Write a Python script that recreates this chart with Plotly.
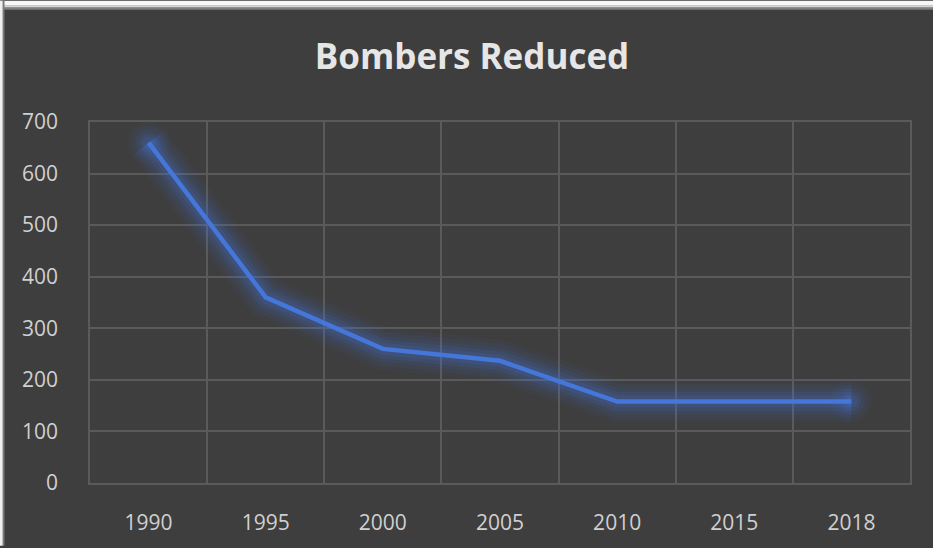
import plotly.graph_objects as go

# Bomber fleet size by year
years = ["1990", "1995", "2000", "2005", "2010", "2015", "2018"]
bombers = [660, 360, 260, 237, 158, 158, 158]
y_ticks = [0, 100, 200, 300, 400, 500, 600, 700]

W, H = 933, 548
ML, MR, MT, MB = 90, 23, 122, 63
PW, PH = W - ML - MR, H - MT - MB

BG = "#3e3e3e"
GRID = "#5a5a5a"
BLUE = "#4577da"


def px_x(x):
    return (x - ML) / PW


def px_y(y):
    return (H - MB - y) / PH


fig = go.Figure()

# soft glow under the line, with rounded ends
ends_x = [years[0], years[-1]]
ends_y = [bombers[0], bombers[-1]]
for width, alpha in [(42, 0.05), (34, 0.065), (26, 0.085), (19, 0.11), (12, 0.15)]:
    col = f"rgba(70,115,215,{alpha})"
    fig.add_trace(go.Scatter(
        x=years, y=bombers, mode="lines",
        line=dict(color=col, width=width),
        hoverinfo="skip", showlegend=False,
    ))
    fig.add_trace(go.Scatter(
        x=ends_x, y=ends_y, mode="markers",
        marker=dict(color=col, size=width, line=dict(width=0)),
        hoverinfo="skip", showlegend=False,
    ))

fig.add_trace(go.Scatter(
    x=years, y=bombers, mode="lines",
    line=dict(color=BLUE, width=4.5),
    name="Bombers", showlegend=False,
))

# light frame strips along the top and left edges
shapes = []
for y0, y1, col in [(0, 5, "#f6f6f6"), (5, 6.5, "#d4d4d4"), (6.5, 8, "#9e9e9e"), (8, 9.5, "#6c6c6c")]:
    shapes.append(dict(type="rect", xref="paper", yref="paper", layer="above",
                       x0=px_x(0), x1=px_x(W), y0=px_y(y1), y1=px_y(y0),
                       fillcolor=col, line=dict(width=0)))
for x0, x1, col in [(0, 2, "#f0f0f0"), (2, 3, "#bdbdbd"), (3, 4.5, "#7a7a7a")]:
    shapes.append(dict(type="rect", xref="paper", yref="paper", layer="above",
                       x0=px_x(x0), x1=px_x(x1), y0=px_y(H), y1=px_y(0),
                       fillcolor=col, line=dict(width=0)))

fig.update_layout(
    width=W, height=H,
    margin=dict(l=ML, r=MR, t=MT, b=MB),
    paper_bgcolor=BG, plot_bgcolor=BG,
    title=dict(text="<b>Bombers Reduced</b>", x=472 / W, xref="container", xanchor="center",
               y=1 - 57 / H, yref="container", yanchor="middle",
               font=dict(family="Open Sans", size=35, color="#e6e6e6")),
    font=dict(family="Open Sans", color="#d0d0d0"),
    shapes=shapes,
)

fig.update_xaxes(
    type="category", tickson="boundaries", range=[-0.5, 6.5],
    showgrid=True, gridcolor=GRID, gridwidth=1.5,
    showline=True, linecolor=GRID, linewidth=1.5, mirror=True,
    zeroline=False, ticks="", ticklabelstandoff=20,
    tickfont=dict(size=21, color="#d0d0d0"),
)
fig.update_yaxes(
    range=[0, 700], tickvals=y_ticks,
    showgrid=True, gridcolor=GRID, gridwidth=1.5,
    showline=True, linecolor=GRID, linewidth=1.5, mirror=True,
    zeroline=True, zerolinecolor=GRID, zerolinewidth=1.5,
    ticks="", ticklabelstandoff=26,
    tickfont=dict(size=21, color="#d0d0d0"),
)

fig.write_html("out.html")
